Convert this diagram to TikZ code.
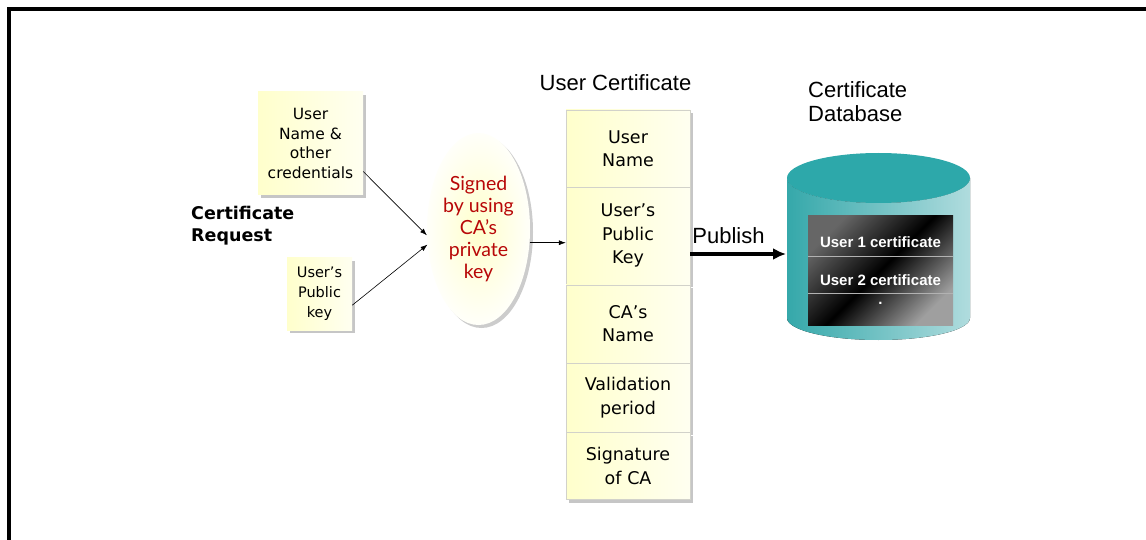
\documentclass[tikz,border=0pt]{standalone}
\usepackage{fontspec}
\setmainfont{Liberation Sans}
\newfontfamily\tahomafont{DejaVu Sans}
\newfontfamily\handfont{Lato}
\usetikzlibrary{
    arrows.meta,
    shapes.geometric,
    shadows,
    calc,
    positioning
}
\definecolor{cream}{HTML}{FFFFCC}
\definecolor{creamlight}{HTML}{FFFFF0}
\definecolor{inkred}{HTML}{B80808}
\definecolor{dbtop}{HTML}{2DA8AA}
\definecolor{dbleft}{HTML}{35A8AA}
\definecolor{dbright}{HTML}{B0DCDE}
\definecolor{cellrule}{HTML}{D2D2CA}

\begin{document}
\begin{tikzpicture}[x=1pt, y=1pt,
    note/.style={rectangle, left color=cream, right color=creamlight, align=center, inner sep=2pt,
        font=\tahomafont\fontsize{15.5}{19.5}\selectfont,
        drop shadow={shadow xshift=3pt, shadow yshift=-3pt, fill=gray!45, opacity=1}},
    field/.style={note, draw=cellrule, minimum width=124, text width=120,
        font=\tahomafont\fontsize{17.5}{23.5}\selectfont},
    seal/.style={ellipse, minimum width=103, minimum height=192, inner sep=0, align=center,
        inner color=cream, outer color=creamlight!40!white, text=inkred,
        font=\handfont\fontsize{19.5}{22}\selectfont,
        drop shadow={shadow xshift=3pt, shadow yshift=-3pt, fill=gray!40, opacity=1}},
    heading/.style={inner sep=3pt, font=\fontsize{22}{24}\selectfont},
    entry/.style={inner sep=0, text=white, font=\bfseries\fontsize{15}{17}\selectfont},
    link/.style={-{Latex[length=7pt, width=5pt]}, semithick}
]
\useasboundingbox (0,0) rectangle (1146,-540);
\draw[line width=4pt] (9,-540) -- (9,-9) -- (1146,-9);

% request
\node[note, minimum width=105, minimum height=103] (cred) at (310.5,-143.5) {User\\Name \&\\other\\credentials};
\node[note, minimum width=65, minimum height=72, font=\tahomafont\fontsize{14.5}{20}\selectfont] (pub) at (319.5,-294) {User’s\\Public\\key};
\node[anchor=west, align=left, inner sep=0, font=\tahomafont\bfseries\fontsize{17.5}{22}\selectfont] (req) at (191,-226) {Certificate\\Request};

% signing
\node[seal] (sign) at (478.5,-229) {Signed\\by using\\CA’s\\private\\key};
\draw[link] (cred.-28) -- (sign.187);
\draw[link] (pub.-19) -- (sign.197);

% certificate
\node[field, minimum height=77] (uname) at (628,-148.5) {User\\Name};
\node[field, minimum height=97, below=0pt of uname] (ukey) {User’s\\Public\\Key};
\node[field, minimum height=78, below=0pt of ukey] (caname) {CA’s\\Name};
\node[field, minimum height=69, below=0pt of caname] (valid) {Validation\\period};
\node[field, minimum height=67, below=0pt of valid] (casig) {Signature\\of CA};
\node[heading] (certtitle) at (615.5,-83) {User Certificate};
\draw[link] (sign.-15) -- (sign.-15 -| ukey.west);

% database
\node[heading, anchor=west, align=left] (dbtitle) at (805,-102) {Certificate\\Database};
\fill[left color=dbleft, right color=dbright] (787,-178) -- (787,-318)
    arc[start angle=180, end angle=360, x radius=91.5, y radius=22] -- (970,-178)
    arc[start angle=0, end angle=-180, x radius=91.5, y radius=25] -- cycle;
\fill[dbtop] (878.5,-178) ellipse[x radius=91.5, y radius=25];
\node[rectangle, minimum width=145, minimum height=109, inner sep=0,
    top color=gray!80!black, bottom color=gray!75, middle color=black, shading angle=45] (store) at (880.5,-270.5) {};
\draw[gray!60, line width=1pt] ($(store.west)+(0,13.5)$) -- ($(store.east)+(0,13.5)$);
\draw[gray!60, line width=1pt] ($(store.west)+(0,-22.5)$) -- ($(store.east)+(0,-22.5)$);
\node[entry] (row1) at (880.5,-242) {User 1 certificate};
\node[entry] (row2) at (880.5,-280) {User 2 certificate};
\node[entry] (row3) at (880.5,-303) {.};

% publish
\coordinate (dbin) at (786,-254);
\draw[line width=4pt, -{Latex[length=13pt, width=12pt]}] (ukey.east |- dbin) -- node[heading, above=5pt, pos=0.4] (publish) {Publish} (dbin);
\end{tikzpicture}
\end{document}
